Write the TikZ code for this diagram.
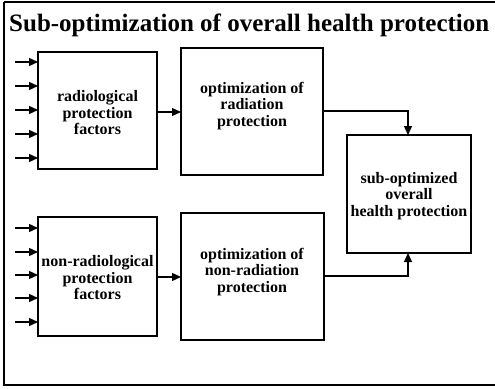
\documentclass[tikz,border=0pt]{standalone}
\usepackage{fontspec}
\setmainfont{Liberation Serif}
\usetikzlibrary{arrows.meta}
\begin{document}
\begin{tikzpicture}[x=1pt,y=-1pt,
  box/.style={draw,line width=1.8pt},
  lbl/.style={font=\bfseries\fontsize{16}{16.5}\selectfont,align=center,inner sep=0pt},
  arr/.style={line width=1.4pt,-{Triangle[length=9pt,width=8pt]}},
  conn/.style={line width=1.4pt}]
\useasboundingbox (0,0) rectangle (495,388);
\draw[line width=2pt] (4,1.5) -- (4,384.5) -- (497,384.5);
\draw[line width=2pt] (4,1.5) -- (497,1.5);
\node[anchor=base west,inner sep=0pt,font=\bfseries\fontsize{25}{28}\selectfont] (title) at (9,31) {Sub-optimization of overall health protection};
% boxes
\draw[box] (38,52) rectangle (157,169);
\node[lbl] (b1) at (97.5,113) {radiological\\protection\\factors};
\coordinate (b1e) at (157,112);
\draw[box] (181,48) rectangle (323,175);
\node[lbl] (b2) at (252,106) {optimization of\\radiation\\protection};
\coordinate (b2w) at (181,112);
\coordinate (b2e) at (323,111);
\draw[box] (38,217) rectangle (157,336);
\node[lbl] (b3) at (97.5,278) {non-radiological\\protection\\factors};
\coordinate (b3e) at (157,277);
\draw[box] (181,213) rectangle (324,340);
\node[lbl] (b4) at (252,272) {optimization of\\non-radiation\\protection};
\coordinate (b4w) at (181,277);
\coordinate (b4e) at (324,276);
\draw[box] (347,135) rectangle (471,253);
\node[lbl] (b5) at (409,196) {sub-optimized\\overall\\health protection};
\coordinate (b5n) at (408,135);
\coordinate (b5s) at (408,253);
% input arrows
\foreach \y [count=\i] in {62,86,110,134,158}{
  \coordinate (s\i) at (15,\y);
  \coordinate (t\i) at (38,\y);
  \draw[arr] (s\i) -- (t\i);
}
\foreach \y [count=\i] in {228,252,275,298,322}{
  \coordinate (u\i) at (15,\y);
  \coordinate (v\i) at (38,\y);
  \draw[arr] (u\i) -- (v\i);
}
\draw[arr] (b1e) -- (b2w);
\draw[arr] (b3e) -- (b4w);
\draw[arr] (b2e) -| (b5n);
\draw[arr] (b4e) -| (b5s);
\end{tikzpicture}
\end{document}
